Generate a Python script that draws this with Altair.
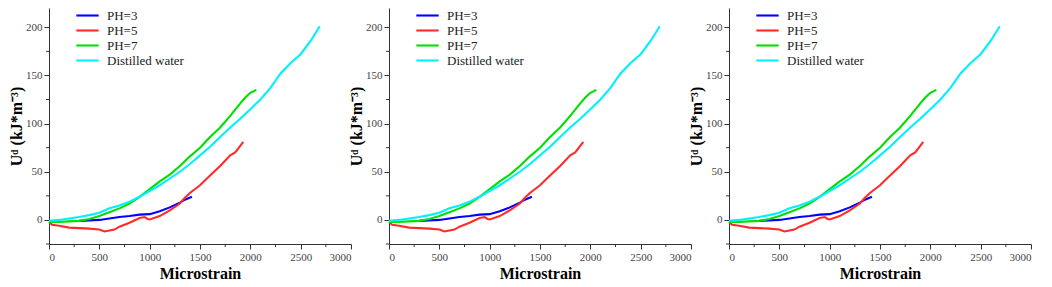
import altair as alt
import pandas as pd

# ---- data ----
series_names = ["PH=3", "PH=5", "PH=7", "Distilled water"]
series_colors = ["#0000ff", "#ff2a2a", "#00e000", "#00f0ff"]

ph3_x = [300, 400, 500, 600, 700, 800, 900, 1000, 1100, 1200, 1300, 1350, 1420]
ph3_y = [-1, -0.5, 0, 1.5, 3, 4, 5.5, 6, 9, 13, 18, 21, 24]

ph5_x = [0, 30, 100, 200, 300, 400, 500, 550, 600, 650, 700, 800, 900, 950, 980, 1000,
         1100, 1200, 1300, 1350, 1400, 1500, 1600, 1700, 1800, 1850, 1930]
ph5_y = [-2, -5, -6, -8, -8.5, -9, -10, -12, -11, -10, -7, -3, 2, 3, 1, 0.5,
         4, 10, 17, 23, 28, 36, 46, 56, 67, 70, 81]

ph7_x = [0, 100, 200, 300, 400, 500, 600, 700, 800, 900, 1000, 1100, 1200, 1300, 1400,
         1500, 1600, 1700, 1800, 1900, 1950, 2000, 2060]
ph7_y = [-2, -2, -1.5, -1, 1, 4, 8, 12, 17, 24, 32, 40, 47, 56, 66,
         75, 86, 96, 108, 121, 127, 132, 135]

dw_x = [0, 100, 200, 300, 400, 500, 600, 700, 800, 900, 1000, 1100, 1200, 1300, 1400,
        1500, 1600, 1700, 1800, 1900, 2000, 2100, 2200, 2300, 2400, 2500, 2600, 2690]
dw_y = [-1, 0, 1.5, 3, 5, 7.5, 12, 15, 19, 24, 30, 36, 43, 50, 58,
        67, 76, 86, 96, 105, 115, 125, 137, 152, 163, 172, 186, 201]

x_ticks = [0, 500, 1000, 1500, 2000, 2500, 3000]
x_minor = [250, 750, 1250, 1750, 2250, 2750]
y_ticks = [0, 50, 100, 150, 200]
y_minor = [-25, 25, 75, 125, 175]

rows = []
for name, xs, ys in [("PH=3", ph3_x, ph3_y), ("PH=5", ph5_x, ph5_y),
                     ("PH=7", ph7_x, ph7_y), ("Distilled water", dw_x, dw_y)]:
    for i, (a, b) in enumerate(zip(xs, ys)):
        rows.append({"series": name, "strain": a, "ud": b, "idx": i})
df = pd.DataFrame(rows)
df_xm = pd.DataFrame({"v": x_minor})
df_ym = pd.DataFrame({"v": y_minor})

W = 302
H = 236
AX = "#333333"
SERIF = "Liberation Serif"

xscale = alt.Scale(domain=[0, 3000], nice=False, zero=False)
yscale = alt.Scale(domain=[-25, 220], nice=False, zero=False)


def panel():
    lines = alt.Chart(df).mark_line(strokeWidth=2.1).encode(
        x=alt.X("strain:Q", scale=xscale, title="Microstrain",
                axis=alt.Axis(values=x_ticks, format="d", grid=False, domainColor=AX,
                              tickColor=AX, tickSize=5, labelFont=SERIF, labelFontSize=11,
                              labelColor="#444444", titleFont=SERIF, titleFontSize=16,
                              titleFontWeight="bold", titleColor="#000000", titlePadding=3,
                              labelPadding=2)),
        y=alt.Y("ud:Q", scale=yscale, title="Uᵈ (kJ*m⁻³)",
                axis=alt.Axis(values=y_ticks, format="d", grid=False, domainColor=AX,
                              tickColor=AX, tickSize=5, labelFont=SERIF, labelFontSize=11,
                              labelColor="#444444", titleFont=SERIF, titleFontSize=16,
                              titleFontWeight="bold", titleColor="#000000", titlePadding=1,
                              labelPadding=2)),
        color=alt.Color("series:N",
                        scale=alt.Scale(domain=series_names, range=series_colors),
                        legend=alt.Legend(title=None, orient="none", legendX=26, legendY=0,
                                          padding=0, symbolType="stroke", symbolSize=500,
                                          symbolStrokeWidth=2.1, labelFont=SERIF,
                                          labelFontSize=13, labelColor="#222222",
                                          clipHeight=15, rowPadding=0, labelOffset=7)),
        order="idx:Q",
    )
    xm = alt.Chart(df_xm).mark_rule(color=AX, strokeWidth=1).encode(
        x=alt.X("v:Q", scale=xscale), y=alt.value(H), y2=alt.value(H + 3))
    ym = alt.Chart(df_ym).mark_rule(color=AX, strokeWidth=1).encode(
        y=alt.Y("v:Q", scale=yscale), x=alt.value(0), x2=alt.value(-3))
    return alt.layer(lines, xm, ym).properties(width=W, height=H)


chart = alt.hconcat(panel(), panel(), panel(), spacing=38, bounds="flush").resolve_scale(
    color="independent").resolve_legend(color="independent").configure(
    font=SERIF).configure_view(stroke=None).properties(padding=0, background="white")

chart.save("out.html", embed_options={"renderer": "svg", "actions": False})
